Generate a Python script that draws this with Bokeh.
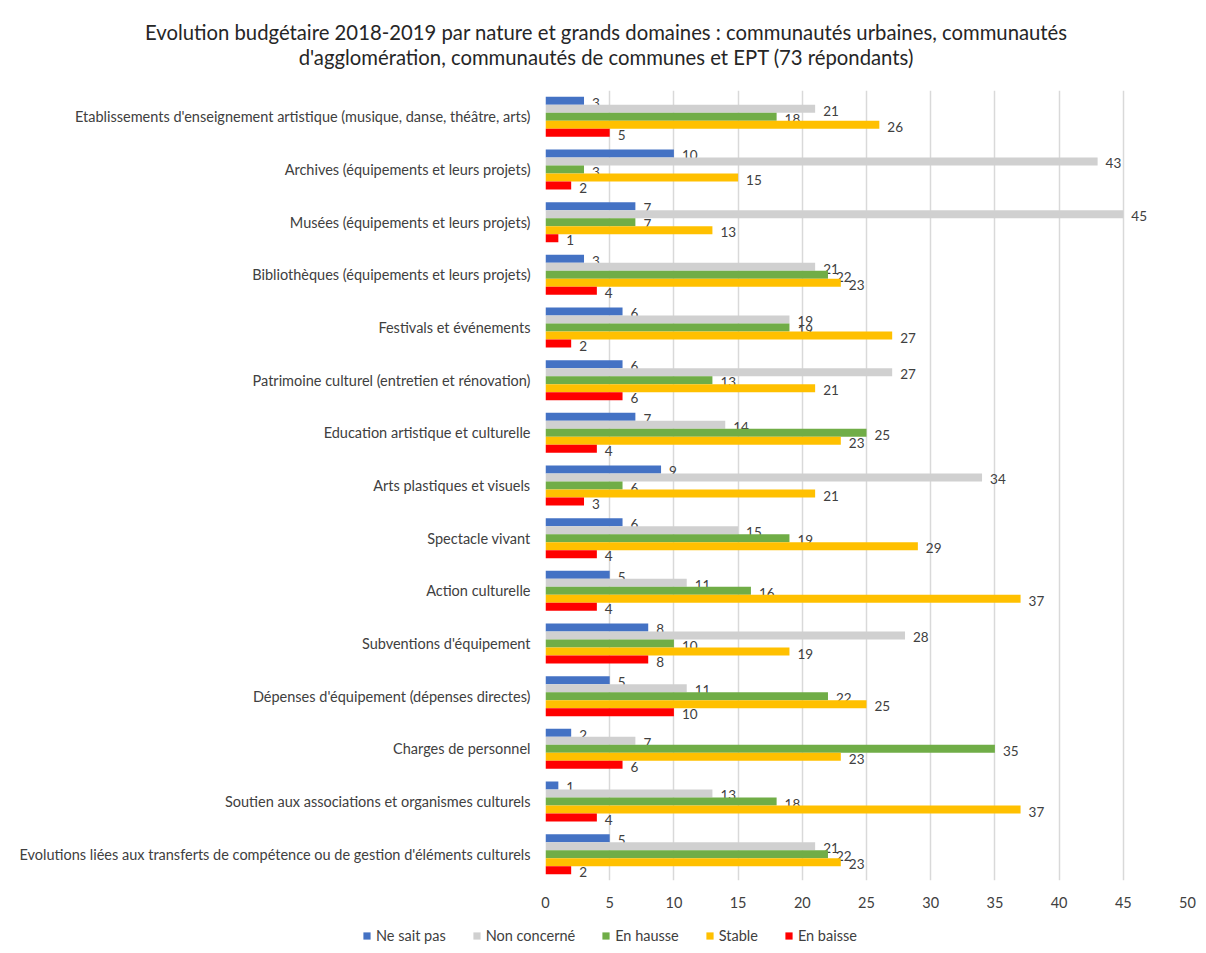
from bokeh.plotting import figure
from bokeh.models import (ColumnDataSource, FactorRange, Range1d, FixedTicker,
                          Legend, LegendItem, Div)
from bokeh.transform import dodge
from bokeh.layouts import column
from bokeh.core.properties import value
from bokeh.embed import file_html
from bokeh.resources import INLINE

# ---------------- data (top to bottom as displayed) ----------------
categories = [
    "Etablissements d'enseignement artistique (musique, danse, théâtre, arts)",
    "Archives (équipements et leurs projets)",
    "Musées (équipements et leurs projets)",
    "Bibliothèques (équipements et leurs projets)",
    "Festivals et événements",
    "Patrimoine culturel (entretien et rénovation)",
    "Education artistique et culturelle",
    "Arts plastiques et visuels",
    "Spectacle vivant",
    "Action culturelle",
    "Subventions d'équipement",
    "Dépenses d'équipement (dépenses directes)",
    "Charges de personnel",
    "Soutien aux associations et organismes culturels",
    "Evolutions liées aux transferts de compétence ou de gestion d'éléments culturels",
]
ne_sait_pas = [3, 10, 7, 3, 6, 6, 7, 9, 6, 5, 8, 5, 2, 1, 5]
non_concerne = [21, 43, 45, 21, 19, 27, 14, 34, 15, 11, 28, 11, 7, 13, 21]
en_hausse = [18, 3, 7, 22, 19, 13, 25, 6, 19, 16, 10, 22, 35, 18, 22]
stable = [26, 15, 13, 23, 27, 21, 23, 21, 29, 37, 19, 25, 23, 37, 23]
en_baisse = [5, 2, 1, 4, 2, 6, 4, 3, 4, 4, 8, 10, 6, 4, 2]

series_names = ["Ne sait pas", "Non concerné", "En hausse", "Stable", "En baisse"]
series_values = [ne_sait_pas, non_concerne, en_hausse, stable, en_baisse]
colors = ["#4472C4", "#D0D0D0", "#70AD47", "#FFC000", "#FF0000"]
x_ticks = [0, 5, 10, 15, 20, 25, 30, 35, 40, 45, 50]

title_line1 = "Evolution budgétaire 2018-2019 par nature et grands domaines : communautés urbaines, communautés"
title_line2 = "d'agglomération, communautés de communes et EPT (73 répondants)"

FONT = "Lato"
TXT = "#404040"

# ---------------- title ----------------
title_div = Div(
    text=(f'<div style="width:1188px;margin-left:12px;text-align:center;font-family:{FONT};'
          f'font-size:20.3px;line-height:25px;color:#262626;padding-top:20px;">'
          f'{title_line1}<br>{title_line2}</div>'),
    width=1200, height=88, margin=0,
)

# ---------------- main figure ----------------
src = {"cat": categories}
for i, vals in enumerate(series_values):
    src[f"s{i}"] = vals
    src[f"l{i}"] = [str(v) for v in vals]
source = ColumnDataSource(src)

p = figure(
    y_range=FactorRange(factors=categories[::-1], range_padding=0),
    x_range=Range1d(0, 50),
    width=1200, height=828,
    min_border_left=545, min_border_right=13,
    min_border_top=2, min_border_bottom=36,
    output_backend="svg", toolbar_location=None,
)
p.outline_line_color = None
p.background_fill_color = "white"
p.border_fill_color = "white"

bar_h = 0.152
offsets = [2 * bar_h, bar_h, 0.0, -bar_h, -2 * bar_h]
for i, name in enumerate(series_names):
    y = dodge("cat", offsets[i], range=p.y_range)
    p.hbar(y=y, left=0, right=f"s{i}", height=bar_h, source=source,
           fill_color=colors[i], line_color=None)
    p.text(x=f"s{i}", y=y, text=f"l{i}", source=source,
           x_offset=8, y_offset=2,
           text_font=value(FONT), text_font_size="13.5px", text_color=TXT,
           text_align="left", text_baseline="middle")

p.xaxis.ticker = FixedTicker(ticks=x_ticks)
p.xaxis.axis_line_color = None
p.xaxis.major_tick_line_color = None
p.xaxis.minor_tick_line_color = None
p.xaxis.major_tick_out = 0
p.xaxis.major_label_standoff = 16
p.xaxis.major_label_text_font = FONT
p.xaxis.major_label_text_font_size = "14.5px"
p.xaxis.major_label_text_color = TXT

p.yaxis.axis_line_color = None
p.yaxis.major_tick_line_color = None
p.yaxis.minor_tick_line_color = None
p.yaxis.major_tick_out = 0
p.yaxis.major_label_standoff = 15
p.yaxis.major_label_text_font = FONT
p.yaxis.major_label_text_font_size = "14.5px"
p.yaxis.major_label_text_color = TXT

p.ygrid.grid_line_color = None
p.xgrid.ticker = FixedTicker(ticks=x_ticks)
p.xgrid.grid_line_color = "#D9D9D9"
p.xgrid.grid_line_width = 1.5

# ---------------- legend strip (separate root, not frame-aligned) ----------------
pl = figure(width=1200, height=30, x_range=Range1d(0, 1), y_range=Range1d(0, 1),
            min_border=0, output_backend="svg", toolbar_location=None)
pl.axis.visible = False
pl.grid.visible = False
pl.outline_line_color = None
leg_renderers = []
for i, name in enumerate(series_names):
    # swatch renderers: a zero-length bar outside the visible range
    leg_renderers.append(pl.hbar(y=[-5], left=[0], right=[0], height=0.1,
                                 fill_color=colors[i], line_color=None))
legend = Legend(
    items=[LegendItem(label=n, renderers=[r]) for n, r in zip(series_names, leg_renderers)],
    orientation="horizontal",
    location=(362, 2),
    glyph_width=9, glyph_height=9,
    label_standoff=5, spacing=26, padding=0, margin=0,
    label_text_font=FONT, label_text_font_size="14.5px", label_text_color=TXT,
    border_line_color=None, background_fill_alpha=0,
)
pl.add_layout(legend, "center")

layout = column(title_div, p, spacing=0)
open("out.html", "w").write(file_html([layout, pl], INLINE))
